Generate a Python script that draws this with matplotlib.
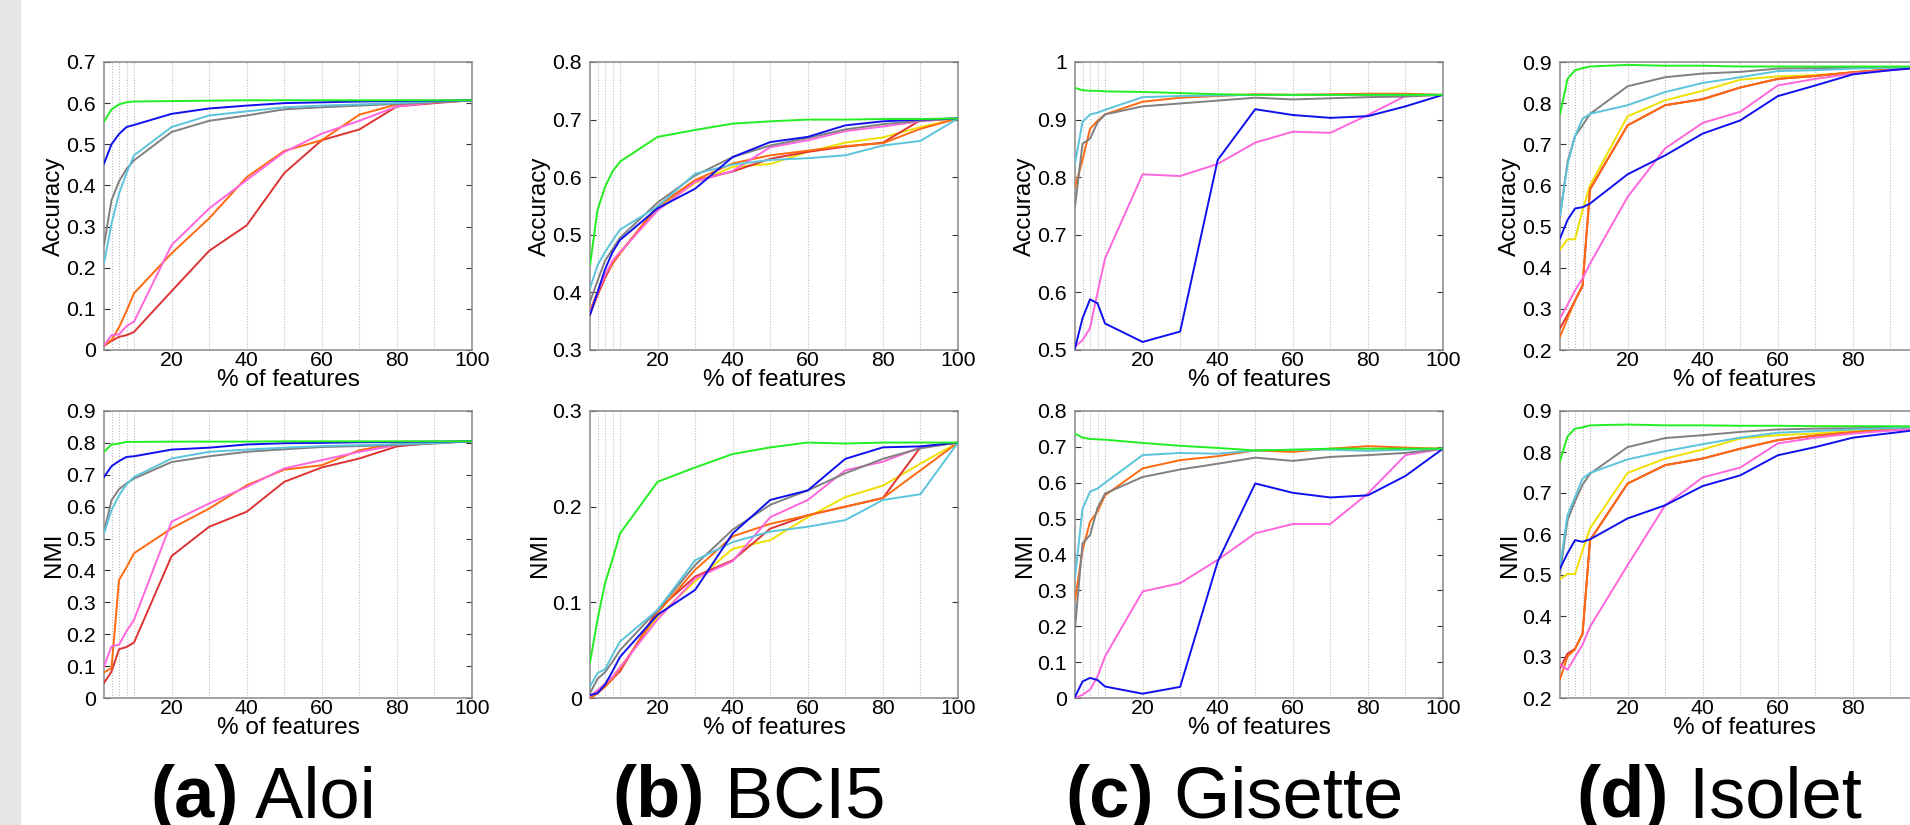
import matplotlib
matplotlib.use('Agg')
import matplotlib.pyplot as plt
from matplotlib.patches import Rectangle

plt.rcParams['font.family'] = ['Liberation Sans', 'DejaVu Sans']

# % of selected features (x axis), shared by every panel
pct = [2, 4, 6, 8, 10, 20, 30, 40, 50, 60, 70, 80, 90, 100]
grid_pct = [4, 6, 8, 10, 30, 50, 70, 90]

# drawing order = dict order (last one on top)
colors = {
    'yellow': '#f0e000',
    'red': '#dd3333',
    'orange': '#ff6a10',
    'pink': '#ff66dd',
    'grey': '#808080',
    'cyan': '#5bc4dc',
    'blue': '#1010ee',
    'green': '#22ee22',
}

aloi_acc = {
    'red':    [0.010, 0.022, 0.032, 0.036, 0.044, 0.143, 0.241, 0.303, 0.430, 0.510, 0.536, 0.592, 0.600, 0.607],
    'orange': [0.012, 0.024, 0.055, 0.095, 0.138, 0.235, 0.320, 0.420, 0.484, 0.510, 0.572, 0.597, 0.602, 0.607],
    'pink':   [0.012, 0.036, 0.038, 0.058, 0.069, 0.255, 0.344, 0.413, 0.481, 0.526, 0.557, 0.592, 0.602, 0.607],
    'grey':   [0.255, 0.364, 0.410, 0.440, 0.461, 0.530, 0.557, 0.570, 0.585, 0.590, 0.594, 0.598, 0.602, 0.607],
    'cyan':   [0.210, 0.307, 0.380, 0.430, 0.473, 0.542, 0.570, 0.580, 0.590, 0.594, 0.597, 0.600, 0.604, 0.607],
    'blue':   [0.453, 0.500, 0.525, 0.542, 0.547, 0.574, 0.587, 0.594, 0.600, 0.602, 0.604, 0.605, 0.606, 0.607],
    'green':  [0.555, 0.585, 0.597, 0.602, 0.604, 0.605, 0.606, 0.607, 0.607, 0.607, 0.607, 0.607, 0.607, 0.607],
}
aloi_nmi = {
    'red':    [0.047, 0.083, 0.153, 0.160, 0.174, 0.445, 0.537, 0.584, 0.678, 0.723, 0.751, 0.789, 0.800, 0.805],
    'orange': [0.080, 0.094, 0.370, 0.410, 0.454, 0.532, 0.594, 0.667, 0.716, 0.730, 0.777, 0.798, 0.802, 0.805],
    'pink':   [0.099, 0.162, 0.167, 0.210, 0.245, 0.553, 0.610, 0.662, 0.720, 0.746, 0.772, 0.793, 0.800, 0.805],
    'grey':   [0.521, 0.620, 0.655, 0.673, 0.688, 0.740, 0.758, 0.772, 0.780, 0.787, 0.790, 0.793, 0.798, 0.805],
    'cyan':   [0.516, 0.589, 0.635, 0.670, 0.693, 0.751, 0.772, 0.779, 0.785, 0.790, 0.793, 0.796, 0.800, 0.805],
    'blue':   [0.693, 0.727, 0.743, 0.756, 0.758, 0.779, 0.785, 0.795, 0.799, 0.800, 0.802, 0.803, 0.804, 0.805],
    'green':  [0.772, 0.795, 0.798, 0.803, 0.803, 0.804, 0.804, 0.804, 0.805, 0.805, 0.805, 0.805, 0.805, 0.805],
}

bci5_acc = {
    'yellow': [0.368, 0.400, 0.430, 0.452, 0.470, 0.546, 0.590, 0.618, 0.623, 0.644, 0.660, 0.669, 0.687, 0.702],
    'red':    [0.362, 0.395, 0.425, 0.450, 0.468, 0.550, 0.594, 0.610, 0.632, 0.644, 0.653, 0.660, 0.699, 0.702],
    'orange': [0.369, 0.400, 0.430, 0.450, 0.468, 0.549, 0.595, 0.624, 0.638, 0.646, 0.654, 0.659, 0.684, 0.702],
    'pink':   [0.365, 0.400, 0.430, 0.455, 0.470, 0.542, 0.592, 0.611, 0.652, 0.664, 0.680, 0.688, 0.697, 0.702],
    'grey':   [0.384, 0.420, 0.455, 0.475, 0.495, 0.556, 0.603, 0.635, 0.655, 0.668, 0.683, 0.692, 0.698, 0.702],
    'cyan':   [0.407, 0.447, 0.470, 0.490, 0.509, 0.549, 0.606, 0.622, 0.630, 0.633, 0.638, 0.655, 0.663, 0.702],
    'blue':   [0.361, 0.400, 0.440, 0.470, 0.491, 0.546, 0.580, 0.635, 0.661, 0.670, 0.690, 0.697, 0.700, 0.702],
    'green':  [0.447, 0.543, 0.583, 0.610, 0.627, 0.670, 0.682, 0.693, 0.697, 0.700, 0.700, 0.701, 0.701, 0.702],
}
bci5_nmi = {
    'yellow': [0.000, 0.006, 0.013, 0.022, 0.032, 0.085, 0.122, 0.156, 0.165, 0.189, 0.210, 0.222, 0.245, 0.267],
    'red':    [0.000, 0.005, 0.012, 0.020, 0.028, 0.092, 0.127, 0.144, 0.177, 0.191, 0.200, 0.209, 0.262, 0.267],
    'orange': [0.000, 0.005, 0.012, 0.020, 0.030, 0.089, 0.134, 0.169, 0.182, 0.191, 0.200, 0.209, 0.238, 0.267],
    'pink':   [0.002, 0.008, 0.015, 0.022, 0.032, 0.082, 0.125, 0.143, 0.189, 0.207, 0.238, 0.247, 0.262, 0.267],
    'grey':   [0.005, 0.020, 0.027, 0.038, 0.050, 0.092, 0.139, 0.176, 0.202, 0.217, 0.235, 0.250, 0.261, 0.267],
    'cyan':   [0.012, 0.026, 0.030, 0.045, 0.059, 0.092, 0.144, 0.163, 0.174, 0.179, 0.186, 0.207, 0.213, 0.267],
    'blue':   [0.003, 0.005, 0.014, 0.028, 0.043, 0.087, 0.113, 0.172, 0.207, 0.217, 0.250, 0.262, 0.263, 0.267],
    'green':  [0.037, 0.082, 0.120, 0.145, 0.172, 0.226, 0.241, 0.255, 0.262, 0.267, 0.266, 0.267, 0.267, 0.267],
}

gisette_acc = {
    'orange': [0.783, 0.830, 0.884, 0.898, 0.909, 0.931, 0.938, 0.941, 0.944, 0.943, 0.944, 0.945, 0.945, 0.943],
    'pink':   [0.506, 0.517, 0.538, 0.600, 0.659, 0.805, 0.802, 0.823, 0.860, 0.879, 0.877, 0.908, 0.941, 0.943],
    'grey':   [0.749, 0.858, 0.867, 0.895, 0.909, 0.923, 0.928, 0.933, 0.938, 0.935, 0.937, 0.939, 0.940, 0.943],
    'cyan':   [0.824, 0.896, 0.909, 0.912, 0.917, 0.939, 0.941, 0.942, 0.943, 0.943, 0.943, 0.943, 0.943, 0.943],
    'blue':   [0.503, 0.555, 0.588, 0.581, 0.546, 0.514, 0.532, 0.830, 0.918, 0.908, 0.903, 0.906, 0.923, 0.943],
    'green':  [0.955, 0.951, 0.950, 0.950, 0.949, 0.948, 0.946, 0.944, 0.943, 0.943, 0.943, 0.943, 0.943, 0.943],
}
gisette_nmi = {
    'orange': [0.273, 0.412, 0.491, 0.520, 0.565, 0.640, 0.663, 0.674, 0.690, 0.686, 0.695, 0.702, 0.698, 0.695],
    'pink':   [0.000, 0.009, 0.023, 0.060, 0.116, 0.297, 0.320, 0.385, 0.459, 0.485, 0.485, 0.570, 0.677, 0.695],
    'grey':   [0.195, 0.431, 0.454, 0.530, 0.570, 0.616, 0.637, 0.653, 0.670, 0.661, 0.672, 0.677, 0.683, 0.695],
    'cyan':   [0.334, 0.528, 0.575, 0.584, 0.600, 0.677, 0.683, 0.681, 0.690, 0.692, 0.692, 0.689, 0.692, 0.695],
    'blue':   [0.003, 0.046, 0.056, 0.050, 0.032, 0.012, 0.031, 0.380, 0.598, 0.572, 0.559, 0.565, 0.619, 0.695],
    'green':  [0.737, 0.726, 0.722, 0.721, 0.720, 0.711, 0.703, 0.697, 0.690, 0.692, 0.695, 0.695, 0.695, 0.695],
}

isolet_acc = {
    'yellow': [0.444, 0.469, 0.469, 0.540, 0.600, 0.768, 0.807, 0.830, 0.857, 0.865, 0.868, 0.875, 0.882, 0.888],
    'red':    [0.253, 0.285, 0.320, 0.355, 0.590, 0.746, 0.795, 0.810, 0.838, 0.859, 0.866, 0.875, 0.882, 0.888],
    'orange': [0.232, 0.277, 0.320, 0.358, 0.592, 0.746, 0.795, 0.809, 0.838, 0.859, 0.866, 0.875, 0.882, 0.888],
    'pink':   [0.277, 0.310, 0.345, 0.374, 0.410, 0.572, 0.690, 0.752, 0.779, 0.843, 0.859, 0.872, 0.880, 0.888],
    'grey':   [0.524, 0.657, 0.720, 0.746, 0.774, 0.841, 0.863, 0.872, 0.876, 0.884, 0.885, 0.886, 0.887, 0.888],
    'cyan':   [0.528, 0.650, 0.720, 0.762, 0.774, 0.795, 0.827, 0.849, 0.863, 0.878, 0.880, 0.884, 0.886, 0.888],
    'blue':   [0.471, 0.516, 0.544, 0.547, 0.556, 0.627, 0.673, 0.726, 0.758, 0.817, 0.843, 0.870, 0.880, 0.888],
    'green':  [0.773, 0.859, 0.880, 0.885, 0.889, 0.893, 0.891, 0.891, 0.889, 0.889, 0.889, 0.889, 0.889, 0.889],
}
isolet_nmi = {
    'yellow': [0.490, 0.503, 0.502, 0.560, 0.614, 0.749, 0.784, 0.806, 0.833, 0.841, 0.845, 0.852, 0.858, 0.862],
    'red':    [0.273, 0.308, 0.320, 0.356, 0.585, 0.723, 0.768, 0.784, 0.808, 0.829, 0.840, 0.848, 0.855, 0.862],
    'orange': [0.246, 0.301, 0.319, 0.358, 0.585, 0.723, 0.768, 0.784, 0.808, 0.829, 0.840, 0.848, 0.855, 0.862],
    'pink':   [0.281, 0.269, 0.300, 0.330, 0.374, 0.524, 0.670, 0.738, 0.762, 0.821, 0.835, 0.845, 0.852, 0.858],
    'grey':   [0.504, 0.634, 0.680, 0.720, 0.747, 0.812, 0.834, 0.841, 0.849, 0.855, 0.857, 0.858, 0.860, 0.862],
    'cyan':   [0.520, 0.646, 0.690, 0.735, 0.749, 0.782, 0.802, 0.819, 0.835, 0.847, 0.851, 0.855, 0.858, 0.862],
    'blue':   [0.516, 0.553, 0.585, 0.581, 0.587, 0.638, 0.670, 0.717, 0.743, 0.792, 0.812, 0.835, 0.846, 0.857],
    'green':  [0.778, 0.838, 0.857, 0.860, 0.865, 0.867, 0.865, 0.865, 0.864, 0.864, 0.863, 0.863, 0.863, 0.862],
}

acc_yticks = [[0, 0.1, 0.2, 0.3, 0.4, 0.5, 0.6, 0.7],
              [0.3, 0.4, 0.5, 0.6, 0.7, 0.8],
              [0.5, 0.6, 0.7, 0.8, 0.9, 1],
              [0.2, 0.3, 0.4, 0.5, 0.6, 0.7, 0.8, 0.9]]
nmi_yticks = [[0, 0.1, 0.2, 0.3, 0.4, 0.5, 0.6, 0.7, 0.8, 0.9],
              [0, 0.1, 0.2, 0.3],
              [0, 0.1, 0.2, 0.3, 0.4, 0.5, 0.6, 0.7, 0.8],
              [0.2, 0.3, 0.4, 0.5, 0.6, 0.7, 0.8, 0.9]]
tags = ['(a)', '(b)', '(c)', '(d)']
names = ['Aloi', 'BCI5', 'Gisette', 'Isolet']
acc_data = [aloi_acc, bci5_acc, gisette_acc, isolet_acc]
nmi_data = [aloi_nmi, bci5_nmi, gisette_nmi, isolet_nmi]

W, H = 1910, 825
fig = plt.figure(figsize=(W / 100, H / 100), dpi=100)
fig.patches.append(Rectangle((0, 0), 20 / W, 1, transform=fig.transFigure,
                             color='#e6e6e6', zorder=0))

lefts = [104, 590, 1075, 1560]
ax_w = 368
tick_fs = 15.3
label_fs = 17.5


def style_axes(ax, yticks, ylabel):
    ax.set_xlim(2, 100)
    ax.set_ylim(yticks[0], yticks[-1])
    ax.set_xticks([20, 40, 60, 80, 100])
    ax.set_xticks(grid_pct, minor=True)
    ax.set_yticks(yticks)
    ax.set_yticklabels([f'{v:g}' for v in yticks])
    ax.grid(True, which='both', axis='x', color='#bbbbbb', ls=(0, (1, 1.5)), lw=0.8)
    ax.tick_params(axis='x', which='both', length=0, pad=1, labelsize=tick_fs)
    ax.tick_params(axis='y', which='major', direction='in', left=True, right=True,
                   length=4, width=0.8, color='#333333', pad=6, labelsize=tick_fs)
    for s in ax.spines.values():
        s.set_color('#888888')
        s.set_linewidth(1.1)
    ax.set_xlabel('% of features', fontsize=label_fs, labelpad=-1)
    ax.set_ylabel(ylabel, fontsize=label_fs, labelpad=1)


def draw_lines(ax, data):
    for key, col in colors.items():
        if key in data:
            ax.plot(pct, data[key], color=col, lw=1.4, zorder=3)


for i in range(4):
    left = lefts[i] / W
    ax1 = fig.add_axes([left, (H - 350) / H, ax_w / W, 288 / H])
    draw_lines(ax1, acc_data[i])
    style_axes(ax1, acc_yticks[i], 'Accuracy')

    ax2 = fig.add_axes([left, (H - 698) / H, ax_w / W, 287 / H])
    draw_lines(ax2, nmi_data[i])
    style_axes(ax2, nmi_yticks[i], 'NMI')

# panel captions: bold tag + regular name, centred under each column
fig.canvas.draw()
r = fig.canvas.get_renderer()
base_y = (H - 817) / H
for i in range(4):
    cx = lefts[i] + ax_w / 2 - 25
    t1 = fig.text(0, base_y, tags[i], fontsize=52, fontweight='bold', va='baseline')
    t2 = fig.text(0, base_y, ' ' + names[i], fontsize=52, va='baseline')
    w1 = t1.get_window_extent(r).width
    w2 = t2.get_window_extent(r).width
    x0 = cx - (w1 + w2) / 2
    t1.set_x(x0 / W)
    t2.set_x((x0 + w1) / W)

fig.savefig('out.png', dpi=100)
